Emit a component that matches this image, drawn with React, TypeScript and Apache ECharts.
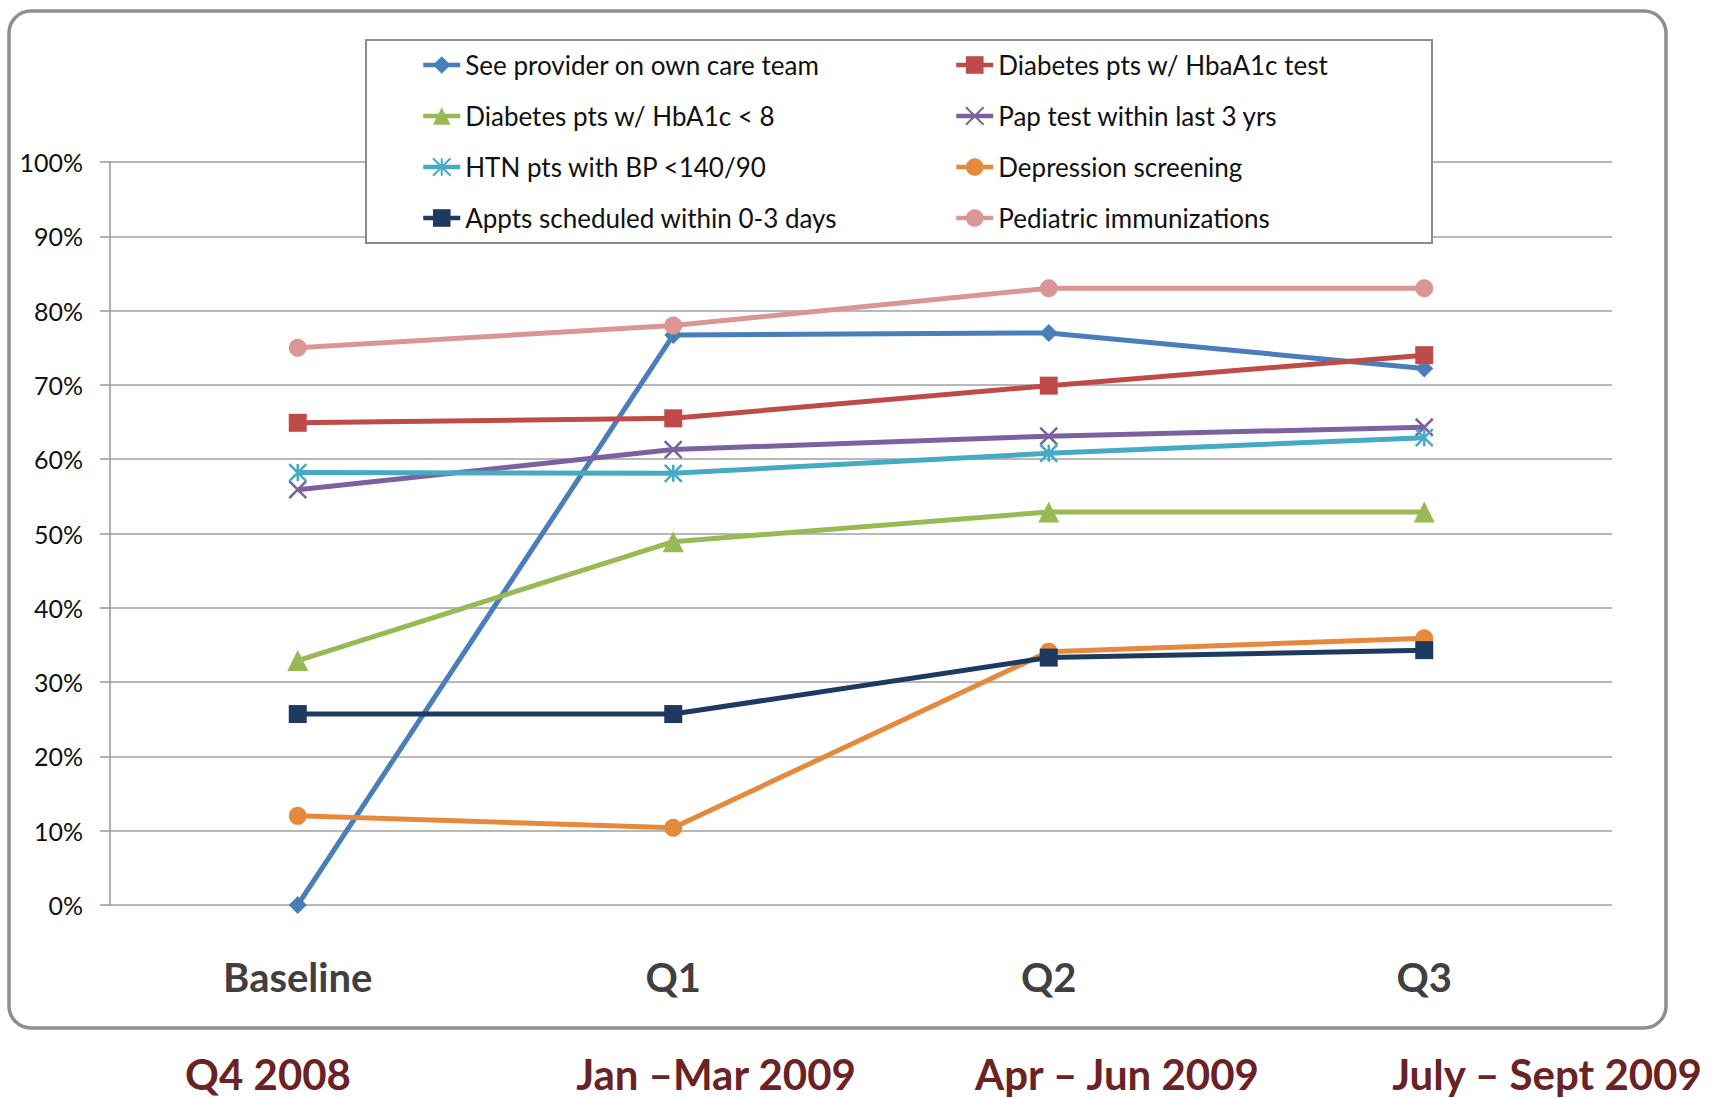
import React, { useEffect, useRef } from "react";
import * as echarts from "echarts";

const categories = ["Baseline", "Q1", "Q2", "Q3"];
const periodLabels = ["Q4 2008", "Jan –Mar 2009", "Apr – Jun 2009", "July – Sept 2009"];

const seeProvider = [0, 76.7, 77.0, 72.2];
const diabetesTest = [64.9, 65.5, 69.9, 74.0];
const hba1cUnder8 = [32.9, 48.9, 52.9, 52.9];
const papTest = [55.9, 61.3, 63.1, 64.3];
const htnBp = [58.2, 58.1, 60.8, 62.9];
const depression = [12.0, 10.4, 34.1, 35.9];
const appts = [25.7, 25.7, 33.3, 34.3];
const pediatric = [75.0, 78.0, 83.0, 83.0];

const FONT = "Lato, 'Open Sans', sans-serif";
const X_SYMBOL = "path://M0,0L10,10M10,0L0,10";
const STAR_SYMBOL = "path://M5,0L5,10M0,0L10,10M10,0L0,10";

type S = { name: string; data: number[]; color: string; symbol: string; size: number; stroke?: boolean };

const seriesDefs: S[] = [
  { name: "See provider on own care team", data: seeProvider, color: "#4A7EBB", symbol: "diamond", size: 18 },
  { name: "Diabetes pts w/ HbaA1c test", data: diabetesTest, color: "#BE4B48", symbol: "rect", size: 18 },
  { name: "Diabetes pts w/ HbA1c < 8", data: hba1cUnder8, color: "#98B954", symbol: "triangle", size: 21 },
  { name: "Pap test within last 3 yrs", data: papTest, color: "#7D60A0", symbol: X_SYMBOL, size: 17, stroke: true },
  { name: "HTN pts with BP <140/90", data: htnBp, color: "#46AAC5", symbol: STAR_SYMBOL, size: 17, stroke: true },
  { name: "Depression screening", data: depression, color: "#E7893D", symbol: "circle", size: 18 },
  { name: "Appts scheduled within 0-3 days", data: appts, color: "#1F3A60", symbol: "rect", size: 18 },
  { name: "Pediatric immunizations", data: pediatric, color: "#D99694", symbol: "circle", size: 18 },
];

const leftLegend = [seriesDefs[0].name, seriesDefs[2].name, seriesDefs[4].name, seriesDefs[6].name];
const rightLegend = [seriesDefs[1].name, seriesDefs[3].name, seriesDefs[5].name, seriesDefs[7].name];

const periodCenters = [268, 716, 1117, 1547];

export default function App() {
  const ref = useRef<HTMLDivElement>(null);
  useEffect(() => {
    if (!ref.current) return;
    const chart = echarts.init(ref.current, undefined, { renderer: "svg" });
    const legendCommon = {
      orient: "vertical" as const,
      top: 50,
      padding: 0,
      itemWidth: 37,
      itemHeight: 22,
      itemGap: 21,
      lineStyle: { width: 4.5 },
      textStyle: { fontFamily: FONT, fontSize: 26, color: "#111111", lineHeight: 30 },
      z: 10,
    };
    chart.setOption({
      animation: false,
      backgroundColor: "#ffffff",
      grid: { left: 110, right: 99, top: 162, bottom: 193, containLabel: false },
      legend: [
        { ...legendCommon, left: 421, data: leftLegend },
        { ...legendCommon, left: 954, data: rightLegend },
      ],
      xAxis: {
        type: "category",
        data: categories,
        boundaryGap: true,
        axisLine: { show: false },
        axisTick: { show: false },
        axisLabel: { fontFamily: FONT, fontSize: 40, fontWeight: "bold", color: "#404040", margin: 52 },
      },
      yAxis: {
        type: "value",
        min: 0,
        max: 100,
        interval: 10,
        axisLine: { show: true, lineStyle: { color: "#969696", width: 1.5 } },
        axisTick: { show: true, length: 10, lineStyle: { color: "#969696", width: 1.5 } },
        splitLine: { show: true, lineStyle: { color: "#A0A0A0", width: 1.5 } },
        axisLabel: { fontFamily: FONT, fontSize: 25, color: "#111111", margin: 27, formatter: "{value}%" },
      },
      graphic: [
        {
          type: "rect",
          z: 0,
          shape: { x: 9, y: 11, width: 1657, height: 1017, r: 22 },
          style: { fill: "none", stroke: "#8E8E8E", lineWidth: 3.5 },
        },
        {
          type: "rect",
          z: 3,
          shape: { x: 366, y: 40, width: 1066, height: 203 },
          style: { fill: "#ffffff", stroke: "#8C8C8C", lineWidth: 2 },
        },
        ...periodLabels.map((t, i) => ({
          type: "text",
          z: 5,
          x: periodCenters[i],
          y: 1074,
          style: {
            text: t,
            fontFamily: FONT,
            fontSize: 42,
            fontWeight: "bold",
            fill: "#6A2224",
            align: "center",
            verticalAlign: "middle",
          },
        })),
      ],
      series: seriesDefs.map((s) => ({
        name: s.name,
        type: "line",
        data: s.data,
        symbol: s.symbol,
        symbolSize: s.size,
        showAllSymbol: true,
        lineStyle: { color: s.color, width: 5 },
        itemStyle: s.stroke
          ? { color: s.color, borderColor: s.color, borderWidth: 2.5 }
          : { color: s.color, borderWidth: 0 },
        emphasis: { disabled: true },
        z: 2,
      })),
    });
    return () => chart.dispose();
  }, []);
  return (
    <div
      ref={ref}
      style={{ position: "absolute", left: 0, top: 0, width: 1711, height: 1098, background: "#fff" }}
    />
  );
}
